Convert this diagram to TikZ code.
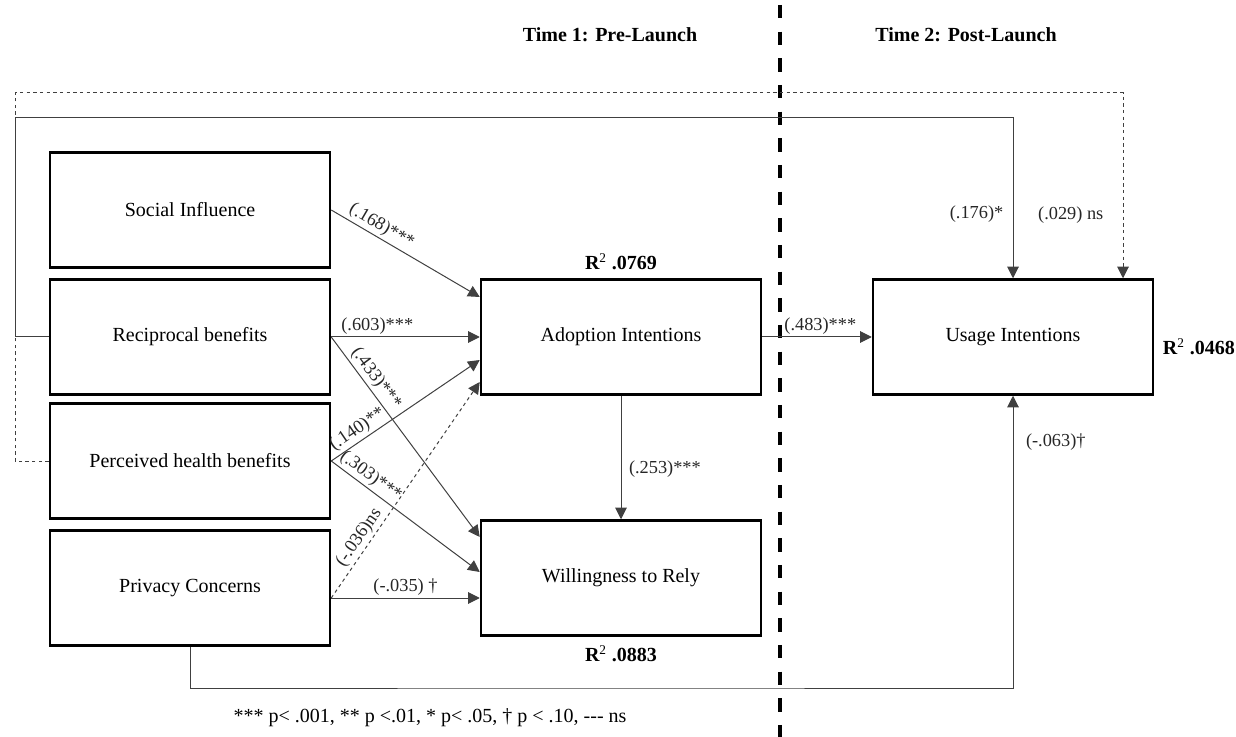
\documentclass[tikz,border=0pt]{standalone}
\usepackage{fontspec}
\setmainfont{Liberation Serif}
\usetikzlibrary{arrows.meta, positioning, calc}

\tikzset{
  construct/.style={draw, line width=1.5pt, minimum width=168pt, minimum height=69pt,
    font=\fontsize{12}{14}\selectfont},
  link/.style={draw=black!75, line width=0.6pt, -{Triangle[length=7pt,width=7pt]}},
  nslink/.style={link, dash pattern=on 2pt off 2pt},
  coef/.style={font=\fontsize{11}{13}\selectfont, text=black!85, inner sep=1.5pt},
  rsq/.style={font=\bfseries\fontsize{12}{14}\selectfont, inner sep=1pt},
  header/.style={font=\bfseries\fontsize{12}{14}\selectfont},
  divider/.style={line width=2.4pt, dash pattern=on 8pt off 8pt},
}

\begin{document}
\begin{tikzpicture}[x=0.6pt, y=-0.6pt]
  \useasboundingbox (0,0) rectangle (1236,737);

  % constructs
  \node[construct] (social)  at (190,210) {Social Influence};
  \node[construct] (recip)   at (190,337) {Reciprocal benefits};
  \node[construct] (health)  at (190,461) {Perceived health benefits};
  \node[construct] (privacy) at (190,588) {Privacy Concerns};
  \node[construct] (adopt)   at (621,337) {Adoption Intentions};
  \node[construct] (rely)    at (621,578) {Willingness to Rely};
  \node[construct] (usage)   at (1013,337) {Usage Intentions};

  % explained variance
  \node[rsq, above=4pt of adopt] (r2adopt) {R\textsuperscript{\mdseries 2} .0769};
  \node[rsq, below=4pt of rely] (r2rely) {R\textsuperscript{\mdseries 2} .0883};
  \node[rsq, right=4pt of usage, yshift=-6pt] (r2usage) {R\textsuperscript{\mdseries 2} .0468};

  % time headers and divider
  \node[header] (time1) at (610,35) {Time 1: Pre-Launch};
  \node[header] (time2) at (966,35) {Time 2: Post-Launch};
  \coordinate (divtop) at (780,5);
  \coordinate (divbot) at (780,737);
  \draw[divider] (divtop) -- (divbot);

  % time 1 paths
  \coordinate (privout) at ($(privacy.east)+(0,10)$);
  \draw[link] (social.east) -- node[coef, sloped, above, pos=0.3] {(.168)***} ($(adopt.west)+(0,-40)$);
  \draw[link] (recip.east) -- node[coef, above, pos=0.31] {(.603)***} (adopt.west);
  \draw[link] (recip.east) -- node[coef, sloped, above, pos=0.24] {(.433)***} ($(rely.west)+(0,-41)$);
  \draw[link] (health.east) -- node[coef, sloped, above, pos=0.22] {(.140)**} ($(adopt.west)+(0,23)$);
  \draw[link] (health.east) -- node[coef, sloped, above, pos=0.22] {(.303)***} ($(rely.west)+(0,-6)$);
  \draw[nslink] (privout) -- node[coef, sloped, above, pos=0.25] {(-.036)ns} ($(adopt.west)+(0,45)$);
  \draw[link] (privout) -- node[coef, above, midway] {(-.035) †} ($(rely.west)+(0,20)$);
  \draw[link] (adopt.south) -- node[coef, right=3pt, pos=0.59] {(.253)***} (rely.north);

  % time 2 paths
  \coordinate (solidcorner) at (15,118);
  \coordinate (dashcorner) at (15,93);
  \coordinate (bottomline) at (600,688);
  \draw[link] (adopt.east) -- node[coef, above, pos=0.53] {(.483)***} (usage.west);
  \draw[link] (recip.west) -| (solidcorner) -| node[coef, left=4pt, pos=0.8] {(.176)*} (usage.north);
  \draw[nslink] (health.west) -| (dashcorner) -| node[coef, left=10pt, pos=0.83] {(.029) ns} ($(usage.north)+(110,0)$);
  \draw[link] (privacy.south) |- (bottomline) -| node[coef, right=6pt, pos=0.92] {(-.063)†} (usage.south);

  % significance note
  \node[font=\fontsize{12}{14}\selectfont] (note) at (430,718) {*** p< .001, ** p <.01, * p< .05, † p < .10, {-}{-}{-} ns};
\end{tikzpicture}
\end{document}
